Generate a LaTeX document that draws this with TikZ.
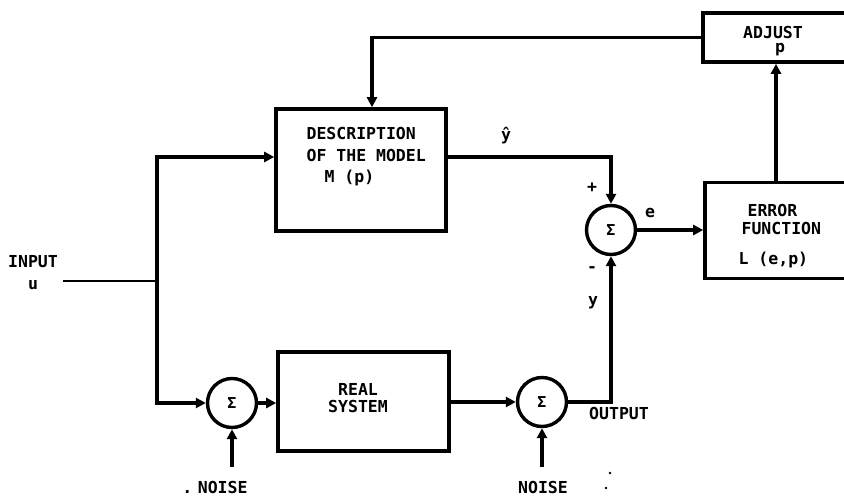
\documentclass[tikz,border=0pt]{standalone}
\usepackage{fontspec}
\setmainfont{DejaVu Sans Mono}
\usetikzlibrary{arrows.meta,calc}
\begin{document}
\begin{tikzpicture}[x=1pt,y=-1pt,line width=3.2pt,
  box/.style={draw,rectangle,inner sep=0pt,line width=3.6pt},
  sumnode/.style={draw,circle,inner sep=0pt,minimum size=49pt,line width=3.4pt,font=\bfseries\fontsize{15}{15}\selectfont},
  arr/.style={-{Triangle[length=10pt,width=10pt]}},
  lbl/.style={font=\bfseries\fontsize{16.5}{17}\selectfont,inner sep=0pt}]
\useasboundingbox (0,0) rectangle (844,498);
\clip (0,0) rectangle (844,498);
% boxes
\node[box,minimum width=167pt,minimum height=49pt] (adj) at (786.5,37.5) {};
\node[box,minimum width=170pt,minimum height=122pt] (model) at (361,170) {};
\node[box,minimum width=165pt,minimum height=96pt] (err) at (787.5,230.5) {};
\node[box,minimum width=171pt,minimum height=99pt] (real) at (363.5,401.5) {};
% summing junctions
\node[sumnode,minimum size=49pt] (s1) at (611,230) {Σ};
\node[sumnode] (s2) at (232,403) {Σ};
\node[sumnode] (s3) at (542,402) {Σ};
% texts
\node[lbl] (atxt1) at (773,32) {ADJUST};
\node[lbl] (atxt2) at (780,50) {p};
\node[lbl,align=left,anchor=west,font=\bfseries\fontsize{16.5}{21.5}\selectfont] (mtxt) at (305,157) {DESCRIPTION\\OF THE MODEL\\\hspace*{18pt}M (p)};
\node[lbl,align=left,anchor=west,font=\bfseries\fontsize{16.5}{18}\selectfont] (etxt) at (740,219) {\hspace*{6pt}ERROR\\FUNCTION};
\node[lbl,anchor=west] (etxt2) at (737,260) {L (e,p)};
\node[lbl,align=center] (rtxt) at (358,398) {REAL\\SYSTEM};
\node[lbl,align=center,font=\bfseries\fontsize{16.5}{22}\selectfont] (intxt) at (33,273) {INPUT\\u};
\node[lbl] (yhat) at (506,136) {ŷ};
\node[lbl] (plus) at (592,188) {+};
\node[lbl] (etx) at (650,213) {e};
\node[lbl] (minus) at (592,270) {-};
\node[lbl] (ytx) at (593,303) {y};
\node[lbl] (outtx) at (619,413) {OUTPUT};
\node[lbl] (n1) at (215,487) {.\,\,NOISE};
\node[lbl] (n2) at (543,487) {NOISE};
\fill (610,473) circle (1.3pt);
\fill (606,488) circle (1.3pt);
% coordinates
\coordinate (fb) at (372,37.5);
\coordinate (r157) at (0,157);
\coordinate (ea) at (776,0);
\coordinate (inL) at (63,281);
\coordinate (j) at (157,281);
\coordinate (n1t) at (232,467);
\coordinate (n2t) at (542,467);
% connectors
\draw[arr] (adj.west) -- (fb) -- (fb |- model.north);
\draw[arr] (model.east |- r157) -| (s1.north);
\draw[arr] (s1.east) -- (s1.east -| err.west);
\draw[arr] (err.north -| ea) -- (adj.south -| ea);
\draw[line width=2.4pt] (inL) -- (j);
\draw[arr] (j) |- (model.west |- r157);
\draw[arr] (j) |- (s2.west);
\draw[arr] (s2.east) -- (s2.east -| real.west);
\draw[arr] (real.east |- s3.west) -- (s3.west);
\draw[arr] (s3.east) -| (s1.south);
\draw[arr] (n1t) -- (s2.south);
\draw[arr] (n2t) -- (s3.south);
\end{tikzpicture}
\end{document}
